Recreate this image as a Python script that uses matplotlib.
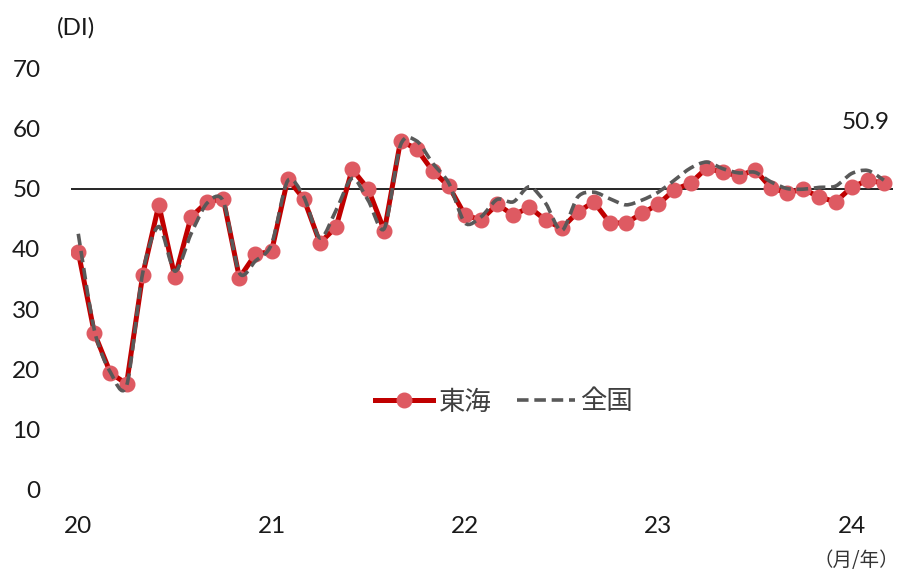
import matplotlib
matplotlib.use("Agg")
import matplotlib.pyplot as plt
from matplotlib.path import Path
from matplotlib.patches import PathPatch
from matplotlib.lines import Line2D
import numpy as np

plt.rcParams['font.family'] = ['Lato', 'Noto Sans CJK JP', 'DejaVu Sans']

# Monthly DI, Jan 2020 - Mar 2024
tokai = [39.5, 26.0, 19.4, 17.6, 35.7, 47.3, 35.3, 45.3, 47.8, 48.3, 35.2, 39.1,
         39.6, 51.6, 48.3, 41.0, 43.6, 53.2, 49.9, 43.0, 57.9, 56.6, 52.9, 50.4,
         45.6, 44.8, 47.4, 45.6, 46.9, 44.8, 43.4, 46.1, 47.8, 44.3, 44.3, 45.9,
         47.4, 49.8, 50.9, 53.4, 52.7, 52.1, 53.1, 50.1, 49.3, 49.9, 48.6, 47.8,
         50.2, 51.4, 50.9]
national = [42.5, 26.5, 19.5, 17.3, 36.0, 43.7, 36.3, 42.5, 47.6, 47.9, 36.0, 38.0,
            40.8, 51.3, 48.6, 41.8, 46.4, 51.7, 48.0, 43.4, 57.2, 57.9, 54.2, 50.9,
            44.3, 45.3, 48.2, 47.8, 50.3, 47.6, 43.0, 48.6, 49.4, 48.3, 47.3, 48.1,
            49.4, 51.4, 53.4, 54.4, 53.3, 52.6, 52.7, 51.1, 50.0, 49.9, 50.2, 50.4,
            52.5, 53.0, 51.4]
year_labels = ['20', '21', '22', '23', '24']
series_names = ['東海', '全国']
last_label = '50.9'

x = np.arange(len(tokai))

fig = plt.figure(figsize=(8.99, 5.73), dpi=100)
ax = fig.add_axes([0.079, 0.1449, 0.914, 0.7364])

red = '#C00000'
marker_face = '#DE5A62'
gray = '#595959'
text_color = '#1a1a1a'

ax.plot(x, tokai, color=red, lw=3.6, marker='o', markersize=10.5,
        markerfacecolor=marker_face, markeredgecolor=marker_face, zorder=3)

# smoothed curve for the national series (cubic Bezier through each point)
pts = np.column_stack([x, national]).astype(float)
verts = [tuple(pts[0])]
codes = [Path.MOVETO]
n = len(pts)
for i in range(n - 1):
    p0 = pts[i - 1] if i > 0 else pts[i]
    p1 = pts[i]
    p2 = pts[i + 1]
    p3 = pts[i + 2] if i + 2 < n else pts[i + 1]
    c1 = p1 + (p2 - p0) / 7.0
    c2 = p2 - (p3 - p1) / 7.0
    verts += [tuple(c1), tuple(c2), tuple(p2)]
    codes += [Path.CURVE4] * 3
ax.add_patch(PathPatch(Path(verts, codes), fill=False, edgecolor=gray, lw=2.6,
                       linestyle=(0, (3.2, 1.6)), transform=ax.transData, zorder=4))

ax.axhline(50, color='black', lw=1.2, zorder=2)

ax.set_xlim(-0.45, len(tokai) - 0.45)
ax.set_ylim(0, 70)
ax.set_yticks(range(0, 71, 10))
ax.set_xticks([0, 12, 24, 36, 48])
ax.set_xticklabels(year_labels)
ax.tick_params(axis='y', length=0, pad=22, labelsize=17.5, labelcolor=text_color)
ax.tick_params(axis='x', length=0, pad=19, labelsize=17.5, labelcolor=text_color)
for s in ax.spines.values():
    s.set_visible(False)

fig.text(0.085, 0.951, '(DI)', fontsize=17.5, ha='center', va='center', color=text_color)
fig.text(0.953, 0.022, '（月/年）', fontsize=14, ha='center', va='center',
         color='#333333', family=['Noto Sans CJK JP', 'DejaVu Sans'])
ax.annotate(last_label, xy=(x[-1], tokai[-1]), xytext=(-13, 44),
            textcoords='offset points', fontsize=17.5, ha='center', va='center',
            color=text_color)

handles = [Line2D([], [], color=red, lw=3.6, marker='o', markersize=10.5,
                  markerfacecolor=marker_face, markeredgecolor=marker_face),
           Line2D([], [], color=gray, lw=2.6, linestyle=(0, (3.2, 1.6)))]
leg = ax.legend(handles, series_names, loc='center', bbox_to_anchor=(0.527, 0.2085),
                ncol=2, frameon=False, handlelength=2.2, columnspacing=0.95,
                handletextpad=0.2,
                prop={'family': ['Noto Sans CJK JP', 'DejaVu Sans'], 'size': 19})
for t in leg.get_texts():
    t.set_color('#404040')

fig.savefig('out.png', dpi=100)
